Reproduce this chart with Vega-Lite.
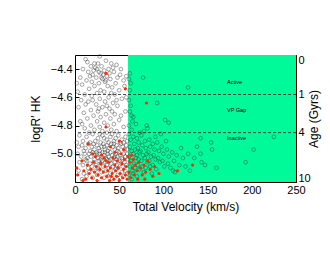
{
"$schema":"https://vega.github.io/schema/vega-lite/v6.json",
"width":221,"height":127,
"autosize":"none",
"padding":{"left":75,"top":55,"right":34,"bottom":73},
"background":"white",
"config":{"view":{"stroke":"black","strokeWidth":1},"axis":{"domain":false,"grid":false,"labelFont":"Liberation Sans","titleFont":"Liberation Sans","labelColor":"black","titleColor":"black","tickColor":"black","labelFontSize":11,"titleFontSize":12,"titleFontWeight":"normal"}},
"datasets":{
"grey":[
{"v":12,"r":-4.33},{"v":28,"r":-4.31},{"v":35,"r":-4.34},{"v":22,"r":-4.36},{"v":41,"r":-4.36},{"v":18,"r":-4.38},{"v":30,"r":-4.38},{"v":47,"r":-4.37},{"v":9,"r":-4.40},{"v":25,"r":-4.40},{"v":33,"r":-4.41},{"v":38,"r":-4.40},{"v":44,"r":-4.42},{"v":15,"r":-4.42},{"v":20,"r":-4.44},{"v":29,"r":-4.43},{"v":36,"r":-4.45},{"v":51,"r":-4.44},{"v":6,"r":-4.46},{"v":24,"r":-4.46},{"v":31,"r":-4.47},{"v":40,"r":-4.47},{"v":13,"r":-4.48},{"v":19,"r":-4.49},{"v":27,"r":-4.50},{"v":34,"r":-4.49},{"v":46,"r":-4.50},{"v":55,"r":-4.48},{"v":8,"r":-4.51},{"v":22,"r":-4.52},{"v":37,"r":-4.52},{"v":42,"r":-4.53},{"v":16,"r":-4.54},{"v":29,"r":-4.55},{"v":50,"r":-4.55},{"v":3,"r":-4.56},{"v":25,"r":-4.57},{"v":33,"r":-4.56},{"v":45,"r":-4.58},{"v":11,"r":-4.58},{"v":19,"r":-4.59},{"v":38,"r":-4.60},{"v":28,"r":-4.61},{"v":53,"r":-4.61},{"v":7,"r":-4.62},{"v":15,"r":-4.63},{"v":34,"r":-4.63},{"v":43,"r":-4.64},{"v":24,"r":-4.65},{"v":48,"r":-4.66},{"v":4,"r":-4.67},{"v":31,"r":-4.67},{"v":39,"r":-4.68},{"v":18,"r":-4.69},{"v":26,"r":-4.70},{"v":57,"r":-4.70},{"v":10,"r":-4.71},{"v":35,"r":-4.72},{"v":45,"r":-4.72},{"v":21,"r":-4.73},{"v":29,"r":-4.74},{"v":14,"r":-4.75},{"v":40,"r":-4.75},{"v":50,"r":-4.76},{"v":6,"r":-4.77},{"v":25,"r":-4.77},{"v":33,"r":-4.78},{"v":44,"r":-4.79},{"v":18,"r":-4.80},{"v":37,"r":-4.80},{"v":28,"r":-4.81},{"v":55,"r":-4.81},{"v":11,"r":-4.82},{"v":22,"r":-4.83},{"v":41,"r":-4.83},{"v":31,"r":-4.84},{"v":47,"r":-4.84},{"v":16,"r":-4.85},{"v":36,"r":-4.85},
{"v":23,"r":-4.39},{"v":27,"r":-4.42},{"v":32,"r":-4.44},{"v":26,"r":-4.36},{"v":39,"r":-4.43},{"v":17,"r":-4.45},{"v":43,"r":-4.39},{"v":21,"r":-4.41},{"v":30,"r":-4.46},{"v":35,"r":-4.48},{"v":14,"r":-4.35},{"v":48,"r":-4.46},{"v":52,"r":-4.40},{"v":56,"r":-4.52},{"v":58,"r":-4.45},{"v":2,"r":-4.50},{"v":41,"r":-4.57},{"v":47,"r":-4.62},{"v":12,"r":-4.65},{"v":36,"r":-4.66},{"v":20,"r":-4.62},{"v":27,"r":-4.68},{"v":42,"r":-4.70},{"v":52,"r":-4.73},{"v":8,"r":-4.79},{"v":58,"r":-4.60},
{"v":5,"r":-4.87},{"v":13,"r":-4.88},{"v":20,"r":-4.86},{"v":26,"r":-4.89},{"v":31,"r":-4.87},{"v":36,"r":-4.90},{"v":40,"r":-4.88},{"v":44,"r":-4.91},{"v":49,"r":-4.87},{"v":53,"r":-4.90},{"v":57,"r":-4.88},{"v":9,"r":-4.91},{"v":17,"r":-4.92},{"v":23,"r":-4.91},{"v":29,"r":-4.92},{"v":33,"r":-4.89},{"v":38,"r":-4.92},{"v":46,"r":-4.89},{"v":51,"r":-4.92},{"v":59,"r":-4.91},{"v":2,"r":-4.92},{"v":42,"r":-4.86},{"v":28,"r":-4.86},
{"v":4,"r":-4.95},{"v":8,"r":-4.94},{"v":12,"r":-4.96},{"v":15,"r":-4.93},{"v":19,"r":-4.95},{"v":22,"r":-4.97},{"v":25,"r":-4.94},{"v":27,"r":-4.96},{"v":30,"r":-4.95},{"v":32,"r":-4.93},{"v":34,"r":-4.97},{"v":36,"r":-4.94},{"v":39,"r":-4.96},{"v":41,"r":-4.93},{"v":43,"r":-4.95},{"v":45,"r":-4.97},{"v":47,"r":-4.94},{"v":49,"r":-4.96},{"v":52,"r":-4.93},{"v":54,"r":-4.95},{"v":56,"r":-4.97},{"v":58,"r":-4.94},{"v":21,"r":-4.93},{"v":28,"r":-4.98},{"v":37,"r":-4.98},{"v":48,"r":-4.98},{"v":55,"r":-4.92},{"v":10,"r":-4.98},{"v":17,"r":-4.98},{"v":59,"r":-4.97},{"v":24,"r":-4.99},{"v":33,"r":-4.95},{"v":44,"r":-4.93},
{"v":3,"r":-5.00},{"v":7,"r":-5.02},{"v":11,"r":-5.00},{"v":14,"r":-5.03},{"v":16,"r":-5.00},{"v":18,"r":-5.02},{"v":20,"r":-4.99},{"v":23,"r":-5.01},{"v":26,"r":-5.03},{"v":28,"r":-5.00},{"v":30,"r":-5.02},{"v":31,"r":-4.99},{"v":33,"r":-5.01},{"v":35,"r":-5.03},{"v":37,"r":-5.00},{"v":38,"r":-5.02},{"v":40,"r":-4.99},{"v":42,"r":-5.01},{"v":44,"r":-5.03},{"v":46,"r":-5.00},{"v":48,"r":-5.02},{"v":50,"r":-4.99},{"v":51,"r":-5.01},{"v":53,"r":-5.03},{"v":55,"r":-5.00},{"v":57,"r":-5.02},{"v":59,"r":-5.00},{"v":25,"r":-5.00},{"v":36,"r":-5.04},{"v":47,"r":-5.04},{"v":22,"r":-5.04},{"v":41,"r":-5.04},{"v":54,"r":-5.04},{"v":29,"r":-5.04},{"v":12,"r":-5.04},{"v":34,"r":-4.99},{"v":45,"r":-5.02},
{"v":5,"r":-5.06},{"v":9,"r":-5.08},{"v":13,"r":-5.05},{"v":17,"r":-5.07},{"v":19,"r":-5.09},{"v":21,"r":-5.06},{"v":24,"r":-5.08},{"v":27,"r":-5.05},{"v":29,"r":-5.07},{"v":32,"r":-5.09},{"v":34,"r":-5.06},{"v":36,"r":-5.08},{"v":39,"r":-5.05},{"v":41,"r":-5.07},{"v":43,"r":-5.09},{"v":45,"r":-5.06},{"v":47,"r":-5.08},{"v":50,"r":-5.05},{"v":52,"r":-5.07},{"v":54,"r":-5.09},{"v":56,"r":-5.06},{"v":58,"r":-5.08},{"v":31,"r":-5.05},{"v":38,"r":-5.10},{"v":49,"r":-5.10},{"v":26,"r":-5.10},{"v":15,"r":-5.10},{"v":60,"r":-5.04},
{"v":4,"r":-5.12},{"v":10,"r":-5.14},{"v":16,"r":-5.13},{"v":22,"r":-5.12},{"v":25,"r":-5.15},{"v":30,"r":-5.13},{"v":35,"r":-5.12},{"v":40,"r":-5.14},{"v":44,"r":-5.12},{"v":48,"r":-5.15},{"v":53,"r":-5.13},{"v":57,"r":-5.12},{"v":20,"r":-5.17},{"v":33,"r":-5.17},{"v":42,"r":-5.18},{"v":51,"r":-5.17},{"v":8,"r":-5.18},{"v":27,"r":-5.11},{"v":37,"r":-5.16},{"v":46,"r":-5.11},{"v":13,"r":-5.16},{"v":55,"r":-5.16},{"v":59,"r":-5.14},
{"v":61,"r":-4.86},{"v":63,"r":-4.90},{"v":62,"r":-4.95},{"v":64,"r":-4.98},{"v":61,"r":-5.02},{"v":63,"r":-5.05},{"v":62,"r":-5.09},{"v":65,"r":-5.12},{"v":61,"r":-5.15},{"v":64,"r":-5.18},{"v":66,"r":-4.88},{"v":67,"r":-4.93},{"v":68,"r":-4.97},{"v":66,"r":-5.00},{"v":69,"r":-5.03},{"v":67,"r":-5.07},{"v":68,"r":-5.10},{"v":66,"r":-5.14},{"v":70,"r":-4.89},{"v":72,"r":-4.92},{"v":71,"r":-4.96},{"v":73,"r":-4.99},{"v":70,"r":-5.01},{"v":72,"r":-5.04},{"v":71,"r":-5.08},{"v":73,"r":-5.11},{"v":70,"r":-5.16},{"v":75,"r":-4.87},{"v":76,"r":-4.94},{"v":74,"r":-4.98},{"v":77,"r":-5.01},{"v":75,"r":-5.05},{"v":76,"r":-5.09},{"v":78,"r":-5.13},{"v":79,"r":-4.91},{"v":80,"r":-4.96},{"v":81,"r":-5.00},{"v":79,"r":-5.03},{"v":82,"r":-5.06},{"v":80,"r":-5.10},{"v":84,"r":-4.90},{"v":85,"r":-4.95},{"v":83,"r":-4.99},{"v":86,"r":-5.02},{"v":84,"r":-5.05},{"v":85,"r":-5.09},{"v":87,"r":-5.14},{"v":88,"r":-4.93},{"v":90,"r":-4.97},{"v":89,"r":-5.01},{"v":91,"r":-5.04},{"v":88,"r":-5.08},{"v":93,"r":-4.92},{"v":95,"r":-4.98},{"v":94,"r":-5.03},{"v":96,"r":-5.06},{"v":92,"r":-5.11},{"v":98,"r":-4.95},{"v":100,"r":-5.00},{"v":99,"r":-5.05},{"v":101,"r":-5.09},{"v":104,"r":-4.97},{"v":106,"r":-5.02},{"v":105,"r":-5.07},{"v":108,"r":-5.10},{"v":110,"r":-4.99},{"v":112,"r":-5.05},{"v":115,"r":-5.01},{"v":118,"r":-5.08},{"v":113,"r":-5.13},{"v":120,"r":-4.96},{"v":122,"r":-5.03},{"v":125,"r":-5.09},{"v":128,"r":-5.00},{"v":64,"r":-4.83},{"v":69,"r":-4.79},{"v":73,"r":-4.85},{"v":66,"r":-4.74},{"v":78,"r":-4.84},{"v":91,"r":-4.88},{"v":97,"r":-4.86},{"v":103,"r":-4.91},{"v":82,"r":-4.82},
{"v":62,"r":-4.43},{"v":61,"r":-4.47},{"v":63,"r":-4.50},{"v":62,"r":-4.55},{"v":61,"r":-4.62},{"v":63,"r":-4.66},{"v":62,"r":-4.70},{"v":64,"r":-4.73},{"v":65,"r":-4.77},{"v":61,"r":-4.80},{"v":77,"r":-4.46},{"v":128,"r":-4.53},{"v":93,"r":-4.64},{"v":102,"r":-4.76},{"v":106,"r":-4.78},{"v":81,"r":-4.80},{"v":142,"r":-4.89},{"v":225,"r":-4.88},{"v":154,"r":-4.92},{"v":155,"r":-4.97},{"v":202,"r":-4.97},{"v":142,"r":-5.00},{"v":193,"r":-5.06},{"v":147,"r":-5.08},{"v":143,"r":-5.06},{"v":111,"r":-5.12},{"v":135,"r":-5.03},{"v":130,"r":-5.12},{"v":160,"r":-5.10},{"v":138,"r":-4.95}
],
"red":[
{"v":35,"r":-4.43},{"v":57,"r":-4.54},{"v":35,"r":-4.81},{"v":81,"r":-4.64},{"v":15,"r":-4.93},{"v":50,"r":-4.91},{"v":40,"r":-4.95},{"v":133,"r":-5.08},{"v":116,"r":-5.12},
{"v":2,"r":-5.10},{"v":3,"r":-5.15},{"v":8,"r":-5.05},{"v":10,"r":-5.12},{"v":12,"r":-5.18},{"v":14,"r":-5.08},{"v":16,"r":-5.14},{"v":18,"r":-5.11},{"v":19,"r":-5.17},{"v":21,"r":-5.06},{"v":22,"r":-5.13},{"v":24,"r":-5.09},{"v":25,"r":-5.19},{"v":26,"r":-5.15},{"v":28,"r":-5.11},{"v":29,"r":-5.07},{"v":30,"r":-5.17},{"v":32,"r":-5.13},{"v":33,"r":-5.03},{"v":34,"r":-5.09},{"v":36,"r":-5.16},{"v":37,"r":-5.12},{"v":38,"r":-5.06},{"v":39,"r":-5.19},{"v":40,"r":-5.10},{"v":42,"r":-5.14},{"v":43,"r":-5.03},{"v":44,"r":-5.18},{"v":45,"r":-5.08},{"v":46,"r":-5.12},{"v":47,"r":-5.16},{"v":48,"r":-5.05},{"v":49,"r":-5.10},{"v":50,"r":-5.19},{"v":51,"r":-5.14},{"v":52,"r":-5.00},{"v":53,"r":-5.07},{"v":54,"r":-5.17},{"v":55,"r":-5.11},{"v":56,"r":-5.04},{"v":57,"r":-5.15},{"v":58,"r":-5.09},{"v":59,"r":-5.18},{"v":60,"r":-5.02},{"v":61,"r":-5.13},{"v":62,"r":-5.06},{"v":63,"r":-5.17},{"v":65,"r":-5.10},{"v":66,"r":-5.04},{"v":67,"r":-5.15},{"v":68,"r":-5.08},{"v":70,"r":-5.12},{"v":71,"r":-5.18},{"v":72,"r":-5.06},{"v":74,"r":-5.10},{"v":76,"r":-5.15},{"v":78,"r":-5.08},{"v":80,"r":-5.13},{"v":82,"r":-5.05},{"v":85,"r":-5.11},{"v":88,"r":-5.16},{"v":90,"r":-5.09},{"v":95,"r":-5.14},{"v":30,"r":-5.01},{"v":20,"r":-5.00},{"v":45,"r":-4.99},{"v":55,"r":-4.97},{"v":9,"r":-5.19},{"v":23,"r":-5.02},{"v":35,"r":-5.05},{"v":41,"r":-5.16},{"v":64,"r":-5.01},{"v":79,"r":-5.18}
]
},
"layer":[
{"data":{"values":[{"x":60,"x2":250,"y":-5.2,"y2":-4.3}]},
 "mark":{"type":"rect","color":"#00FA9A"},
 "encoding":{
  "x":{"field":"x","type":"quantitative","scale":{"domain":[0,250],"nice":false,"zero":false},
   "axis":{"title":"Total Velocity (km/s)","values":[0,50,100,150,200,250],"tickSize":-4,"labelPadding":6,"titlePadding":6,"labelFlush":false}},
  "x2":{"field":"x2"},
  "y":{"field":"y","type":"quantitative","scale":{"domain":[-5.2,-4.3],"nice":false,"zero":false},
   "axis":{"title":"logR′ HK","values":[-4.4,-4.6,-4.8,-5.0],"format":".1f","tickSize":-4,"labelPadding":7,"titlePadding":8}},
  "y2":{"field":"y2"}}},
{"data":{"values":[{"y":-5.2},{"y":-5.15},{"y":-5.1},{"y":-5.05},{"y":-4.95},{"y":-4.9},{"y":-4.85},{"y":-4.75},{"y":-4.7},{"y":-4.65},{"y":-4.55},{"y":-4.5},{"y":-4.45},{"y":-4.35},{"y":-4.3}]},
 "mark":{"type":"tick","opacity":0},
 "encoding":{"y":{"field":"y","type":"quantitative","scale":{"domain":[-5.2,-4.3],"nice":false,"zero":false},
   "axis":{"title":null,"labels":false,"values":[-5.15,-5.1,-5.05,-4.95,-4.9,-4.85,-4.75,-4.7,-4.65,-4.55,-4.5,-4.45,-4.35],"tickSize":-2}}}},
{"data":{"name":"grey"},
 "mark":{"type":"point","shape":"circle","filled":false,"stroke":"#333333","strokeWidth":0.5,"size":14,"opacity":0.85},
 "encoding":{
  "x":{"field":"v","type":"quantitative","scale":{"domain":[0,250],"nice":false,"zero":false},"axis":null},
  "y":{"field":"r","type":"quantitative","scale":{"domain":[-5.2,-4.3],"nice":false,"zero":false},"axis":null}}},
{"data":{"name":"red"},
 "mark":{"type":"point","shape":"circle","filled":true,"color":"#ff2a00","size":10,"opacity":1},
 "encoding":{
  "x":{"field":"v","type":"quantitative","scale":{"domain":[0,250],"nice":false,"zero":false},"axis":null},
  "y":{"field":"r","type":"quantitative","scale":{"domain":[-5.2,-4.3],"nice":false,"zero":false},"axis":null}}},
{"data":{"values":[{"y":-4.58},{"y":-4.85}]},
 "mark":{"type":"rule","color":"#222222","strokeWidth":0.8,"strokeDash":[3,2]},
 "encoding":{
  "y":{"field":"y","type":"quantitative","scale":{"domain":[-5.2,-4.3],"nice":false,"zero":false},
   "axis":{"orient":"right","title":"Age (Gyrs)","titleAngle":-90,"titleBaseline":"bottom","values":[-4.3,-4.58,-4.85,-5.2],"labelExpr":"datum.value > -4.35 ? '0' : datum.value > -4.7 ? '1' : datum.value > -5.0 ? '4' : '10'","tickSize":-4,"labelPadding":6,"titlePadding":10,"labelFlush":true,"labelFlushOffset":1}}}},
{"data":{"values":[{"v":172,"r":-4.49,"t":"Active"},{"v":172,"r":-4.69,"t":"VP Gap"},{"v":172,"r":-4.885,"t":"Inactive"}]},
 "mark":{"type":"text","align":"left","baseline":"middle","fontSize":5.5,"font":"Liberation Sans","color":"black"},
 "encoding":{
  "x":{"field":"v","type":"quantitative","scale":{"domain":[0,250],"nice":false,"zero":false},"axis":null},
  "y":{"field":"r","type":"quantitative","scale":{"domain":[-5.2,-4.3],"nice":false,"zero":false},"axis":null},
  "text":{"field":"t"}}}
],
"resolve":{"axis":{"x":"independent","y":"independent"}}
}
